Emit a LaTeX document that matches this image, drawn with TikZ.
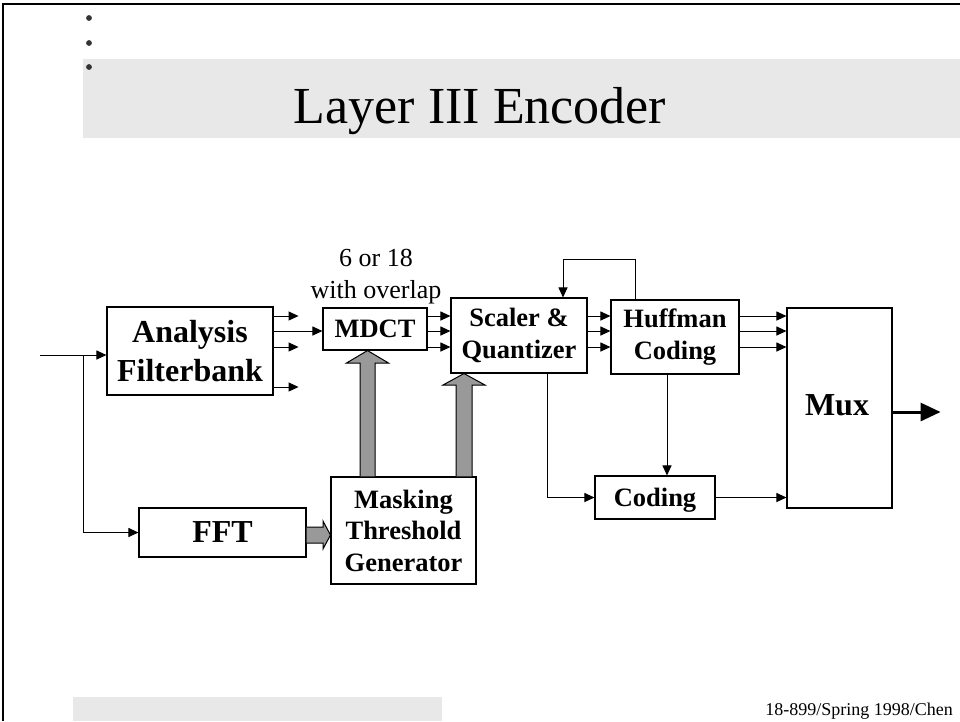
\documentclass[tikz,border=0pt]{standalone}
\usepackage{fontspec}
\setmainfont{Liberation Serif}
\usetikzlibrary{arrows.meta,calc}
\definecolor{bandgray}{HTML}{E8E8E8}
\definecolor{fatgray}{HTML}{999999}
\definecolor{bulletgray}{HTML}{333333}
\begin{document}
\begin{tikzpicture}[x=1pt,y=-1pt,
  box/.style={draw,line width=1.1pt,inner sep=0pt,align=center,font=\bfseries\fontsize{26.5}{31.5}\selectfont},
  bigbox/.style={box,font=\bfseries\fontsize{32}{39}\selectfont},
  arr/.style={line width=1pt,-{Triangle[length=10pt,width=9pt]}},
  fat/.style={draw,line width=1pt,fill=fatgray,line join=miter},
  plain/.style={inner sep=0pt}]
\useasboundingbox (0,0) rectangle (960,721);
% frame and bands
\fill[bandgray] (83,59) rectangle (960,138);
\fill[bandgray] (73,697) rectangle (442,721);
\draw[line width=2.5pt,line join=miter] (3,721) -- (3,4) -- (960,4);
\foreach \yy in {18,43,67} \fill[bulletgray] (89,\yy) circle[radius=2.9pt];
\node[plain,anchor=base,font=\fontsize{52}{60}\selectfont] (title) at (480,123) {Layer III Encoder};
\node[plain,anchor=base east,font=\fontsize{18}{22}\selectfont] (foot) at (953,715) {18-899/Spring 1998/Chen};
% boxes
\node[bigbox,minimum width=166pt,minimum height=88pt] (ana) at (190,351) {Analysis\\Filterbank};
\node[box,minimum width=104pt,minimum height=42pt] (mdct) at (375,329) {MDCT};
\node[box,minimum width=136pt,minimum height=75pt] (sq) at (519,335.5) {Scaler \&\\Quantizer};
\node[box,minimum width=128pt,minimum height=74pt] (huf) at (675,337) {Huffman\\Coding};
\node[box,minimum width=105pt,minimum height=200pt] (mux) at (839.5,408) {};
\node[plain,font=\bfseries\fontsize{32}{39}\selectfont] (muxlbl) at (837,405) {Mux};
\node[box,minimum width=120pt,minimum height=43pt,text depth=0pt] (cod) at (655,497.5) {Coding};
\node[bigbox,minimum width=167pt,minimum height=49pt] (fft) at (222.5,532.5) {FFT};
\node[box,minimum width=145pt,minimum height=107pt] (mask) at (403.5,530.5) {Masking\\Threshold\\Generator};
\node[plain,align=center,font=\fontsize{26}{32}\selectfont] (lbl) at (376,277) {6 or 18\\with overlap};
% input
\coordinate (in) at (40,355);
\coordinate (br) at (83,355);
\draw[arr] (in) -- (in -| ana.west);
\draw[arr] (br) |- (fft.west);
% analysis outputs
\draw[arr] (ana.east |- 0,316) -- ++(25,0);
\draw[arr] (ana.east |- 0,331) -- (mdct.west |- 0,331);
\draw[arr] (ana.east |- 0,347) -- ++(25,0);
\draw[arr] (ana.east |- 0,387) -- ++(25,0);
\foreach \yy in {316,331,347} {
  \draw[arr] (mdct.east |- 0,\yy) -- (sq.west |- 0,\yy);
  \draw[arr] (sq.east |- 0,\yy) -- (huf.west |- 0,\yy);
  \draw[arr] (huf.east |- 0,\yy) -- (mux.west |- 0,\yy);
}
% feedback
\draw[arr] (635,0 |- huf.north) -- (635,259) -| (563,0 |- sq.north);
% to coding
\draw[arr] (547,0 |- sq.south) |- (cod.west);
\draw[arr] (667,0 |- huf.south) -- (667,0 |- cod.north);
\draw[arr] (cod.east) -- (cod.east -| mux.west);
% output
\draw[line width=3pt,-{Triangle[length=20pt,width=18pt]}] (mux.east |- 0,412) -- ++(48,0);
% fat arrows
\draw[fat] (360,0 |- mask.north) -- (360,363) -- (346.5,363) -- (367.5,0 |- mdct.south) -- (388.5,363) -- (375,363) -- (375,0 |- mask.north);
\draw[fat] (456,0 |- mask.north) -- (456,385) -- (443,385) -- (464,0 |- sq.south) -- (485,385) -- (472,385) -- (472,0 |- mask.north);
\draw[fat] (fft.east |- 0,527) -- (323,527) -- (323,521) -- (mask.west |- 0,535) -- (323,549) -- (323,543) -- (fft.east |- 0,543);
\end{tikzpicture}
\end{document}
